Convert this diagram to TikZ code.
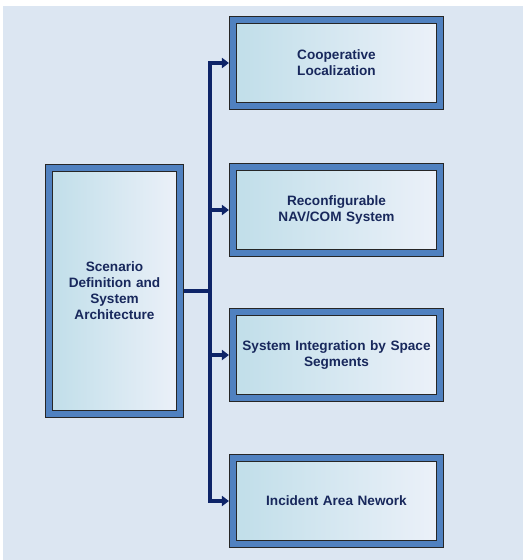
\documentclass[tikz,border=0pt]{standalone}
\usepackage{fontspec}
\setmainfont{Liberation Sans}
\usetikzlibrary{arrows.meta, positioning, calc}
\definecolor{bgblue}{RGB}{220,230,242}
\definecolor{frameblue}{RGB}{80,129,192}
\definecolor{innerleft}{RGB}{192,222,233}
\definecolor{innerright}{RGB}{236,241,249}
\definecolor{textnavy}{RGB}{24,40,92}
\definecolor{linknavy}{RGB}{14,36,104}
\tikzset{task/.style={draw=black!85, line width=0.9pt, double=frameblue, double distance=5.8pt,
  left color=innerleft, right color=innerright, outer sep=3.8pt, align=center,
  text=textnavy, font=\bfseries\fontsize{13.6}{16}\selectfont}}
\tikzset{subtask/.style={task, minimum width=207.5pt, minimum height=85.5pt, text width=200pt}}
\tikzset{link/.style={draw=linknavy, line width=3.2pt}}
\tikzset{linkarrow/.style={link, -{Triangle[length=7pt, width=10pt]}}}

\begin{document}
\begin{tikzpicture}[x=1pt, y=-1pt]
\useasboundingbox (0,0) rectangle (523,560);
\fill[bgblue] (3,6) rectangle (523,560);

\node[task, minimum width=131.5pt, minimum height=246.5pt, text width=122pt] (arch) at (114.5,291) {Scenario\\Definition and\\System\\Architecture};

\node[subtask] (coop) at (336.5,63) {Cooperative\\Localization};
\node[subtask] (reconf) at (336.5,210) {Reconfigurable\\NAV/COM System};
\node[subtask] (integ) at (336.5,355) {System Integration by Space\\Segments};
\node[subtask] (iarea) at (336.5,501) {Incident Area Nework};

\coordinate (hub) at (210,291);

\draw[link] (arch.east) -- (hub);
\foreach \target in {coop, reconf, integ, iarea}
  \draw[linkarrow] (hub) |- (\target.west);
\end{tikzpicture}
\end{document}
